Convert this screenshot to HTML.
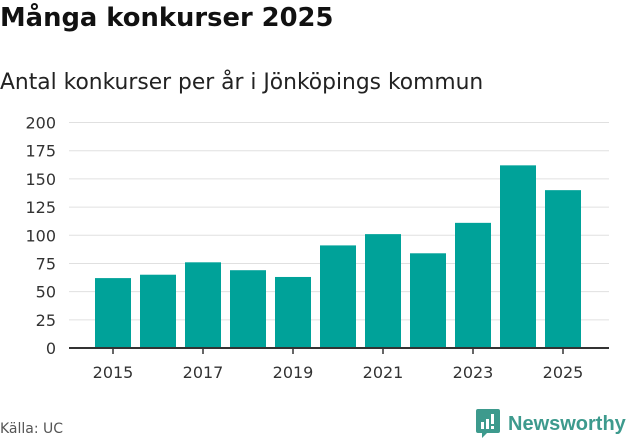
<!DOCTYPE html>
<html><head><meta charset="utf-8"><style>
body{margin:0;width:631px;height:439px;background:#fff;font-family:"DejaVu Sans","Liberation Sans",sans-serif;overflow:hidden;position:relative}
h1{position:absolute;left:0;top:3px;margin:0;font-size:25.8px;font-weight:bold;color:#111}
h2{position:absolute;left:0;top:70px;margin:0;font-size:21.8px;font-weight:normal;color:#222}
.src{position:absolute;left:0;top:421px;font-size:14px;color:#555}
</style></head><body>
<h1>Många konkurser 2025</h1>
<h2>Antal konkurser per år i Jönköpings kommun</h2>
<svg id="c" width="631" height="439" style="position:absolute;left:0;top:0"></svg>
<div class="src">Källa: UC</div>
<div style="position:absolute;left:476px;top:409px;display:flex;align-items:center">
<svg width="24" height="30" viewBox="0 0 24 30"><path d="M2 0h20a2 2 0 0 1 2 2v20a2 2 0 0 1-2 2H11l-5 5v-5H2a2 2 0 0 1-2-2V2a2 2 0 0 1 2-2z" fill="#3d9a8d"/><rect x="5" y="13" width="3" height="7" fill="#fff"/><rect x="10" y="10" width="3" height="10" fill="#fff"/><rect x="15" y="5" width="3" height="10" fill="#fff"/><rect x="15" y="17" width="3" height="3" fill="#fff"/></svg>
<span style="font-family:'Liberation Sans',sans-serif;font-size:20px;color:#3d9a8d;margin-left:8px;font-weight:bold">Newsworthy</span></div>
<script>
const years=["2015","2016","2017","2018","2019","2020","2021","2022","2023","2024","2025"];
const values=[62,65,76,69,63,91,101,84,111,162,140];
const yTicks=[0,25,50,75,100,125,150,175,200];
const xLabels=["2015","2017","2019","2021","2023","2025"];
const NS="http://www.w3.org/2000/svg",svg=document.getElementById('c');
const y0=348,y1=122.5,x0=69,x1=609;
const y=v=>y0-(v/200)*(y0-y1);
const x=i=>95+45*i;
function mk(t,a){const e=document.createElementNS(NS,t);for(const k in a)e.setAttribute(k,a[k]);svg.appendChild(e);return e;}
yTicks.forEach(v=>{
 if(v>0){const l=mk('line',{x1:x0,x2:x1,y1:y(v),y2:y(v),stroke:'#e0e0e0','stroke-width':1});
 
 }
 const t=mk('text',{x:56,y:y(v)+6,'text-anchor':'end','font-size':16,fill:'#333'});t.textContent=v;
 
 
});
years.forEach((yr,i)=>{
 const r=mk('rect',{x:x(i),y:y(values[i]),width:36,height:y0-y(values[i]),fill:'#00a299'});
 
 
 if(xLabels.includes(yr)){
  mk('line',{x1:x(i)+18,x2:x(i)+18,y1:y0,y2:y0+6,stroke:'#333','stroke-width':1.5});
  const t=mk('text',{x:x(i)+18,y:378,'text-anchor':'middle','font-size':16,fill:'#333'});t.textContent=yr;
  
  
 }
});
const ax=mk('line',{x1:x0,x2:x1,y1:y0,y2:y0,stroke:'#333','stroke-width':2});


</script>
</body></html>
